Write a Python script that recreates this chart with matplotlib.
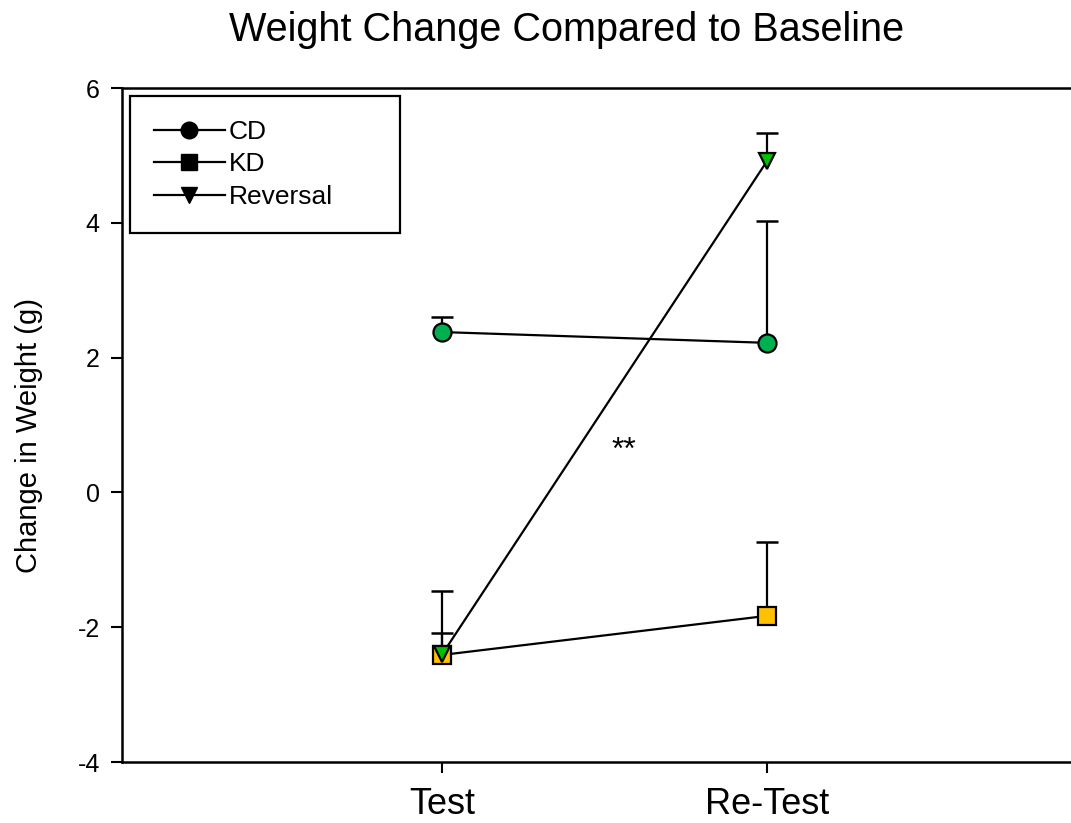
import matplotlib
matplotlib.use('Agg')
import matplotlib.pyplot as plt
import numpy as np

plt.rcParams['font.family'] = ['Liberation Sans', 'DejaVu Sans']
plt.rcParams['axes.unicode_minus'] = False

sessions = ['Test', 'Re-Test']
x = [1, 2]

# group means and upper error (one-sided)
cd_mean = [2.38, 2.22]
cd_err = [0.22, 1.81]
kd_mean = [-2.41, -1.83]
kd_err = [0.95, 1.09]
rev_mean = [-2.40, 4.92]
rev_err = [0.31, 0.41]

fig = plt.figure(figsize=(10.71, 8.23), dpi=100)
ax = fig.add_axes([0.114, 0.074, 0.886, 0.819])

groups = [
    ('CD', cd_mean, cd_err, 'o', '#00b050', 13),
    ('KD', kd_mean, kd_err, 's', '#ffc000', 12.5),
    ('Reversal', rev_mean, rev_err, 'v', '#00c000', 12),
]

for name, m, e, mk, col, ms in groups:
    top = np.array(m) + np.array(e)
    # upper-only error bars
    ax.vlines(x, m, top, colors='black', lw=1.6, zorder=2)
    ax.plot(x, top, linestyle='none', marker='_', markersize=16,
            markeredgewidth=1.8, color='black', zorder=2)
    ax.plot(x, m, color='black', lw=1.6, zorder=3)
    ax.plot(x, m, linestyle='none', marker=mk, markersize=ms,
            markerfacecolor=col, markeredgecolor='black',
            markeredgewidth=1.6, zorder=4)

# legend handles in black
handles = []
for name, m, e, mk, col, ms in groups:
    h, = ax.plot([], [], color='black', lw=1.6, marker=mk, markersize=12,
                 markerfacecolor='black', markeredgecolor='black', label=name)
    handles.append(h)
leg = ax.legend(handles=handles, loc='upper left', fontsize=19,
                frameon=True, fancybox=False, edgecolor='black',
                handlelength=2.7, borderpad=0.9, labelspacing=0.32,
                handletextpad=0.15, mode='expand',
                bbox_to_anchor=(0.0084, 0.791, 0.2845, 0.197),
                borderaxespad=0.0)
leg.get_frame().set_linewidth(1.6)
leg.get_frame().set_alpha(1)

ax.text(1.56, 0.62, '**', ha='center', va='center', fontsize=23)

ax.set_xlim(0.015, 2.935)
ax.set_ylim(-4, 6)
ax.set_xticks(x)
ax.set_xticklabels(sessions, fontsize=26)
ax.set_yticks([-4, -2, 0, 2, 4, 6])
ax.tick_params(axis='y', labelsize=18, length=8, width=1.5, direction='out', pad=8)
ax.tick_params(axis='x', length=8, width=1.5, direction='out', pad=10)
ax.set_ylabel('Change in Weight (g)', fontsize=21)
ax.yaxis.set_label_coords(-0.083, 0.484)
ax.spines['right'].set_visible(False)
for s in ['left', 'top', 'bottom']:
    ax.spines[s].set_linewidth(1.8)

fig.text(0.529, 0.963, 'Weight Change Compared to Baseline', fontsize=28.5,
         ha='center', va='center')

fig.savefig('out.png', dpi=100)
